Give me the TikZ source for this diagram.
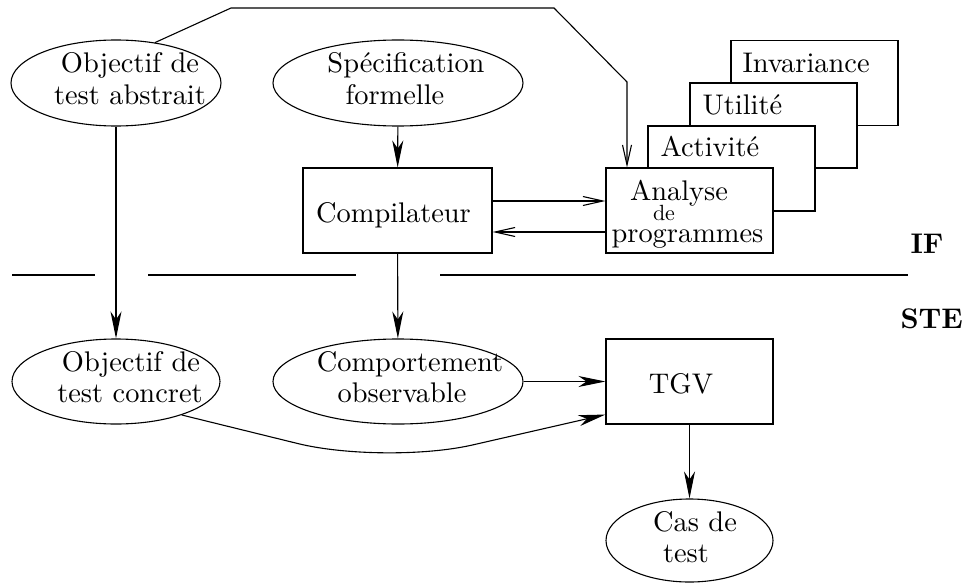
\documentclass[tikz,border=0pt]{standalone}
\usepackage{tikz}
\usetikzlibrary{shapes.geometric,arrows.meta}
\font\figrm="[lmroman10-regular]:+tlig;" at 28.4pt
\font\figsm="[lmroman10-regular]:+tlig;" at 22pt
\font\figbf="[lmroman10-bold]:+tlig;" at 28.4pt

\begin{document}
\begin{tikzpicture}[x=1pt,y=-1pt,line width=1.1pt,
    every node/.style={font=\figrm},
    oval/.style={draw,ellipse,inner sep=0pt,minimum height=86pt},
    boite/.style={draw,fill=white,inner sep=0pt,minimum width=167pt,minimum height=85pt},
    txt/.style={anchor=base,inner sep=0pt},
    fleche/.style={-{Stealth[length=27pt,width=11pt,inset=8pt]}},
    ouvert/.style={-{Straight Barb[length=20pt,width=9pt]}}]
        \useasboundingbox (0,0) rectangle (963,583);

        \node[oval,minimum width=210pt] (abs) at (116,83) {};
        \node[oval,minimum width=250pt] (spec) at (398,83) {};
        \node[oval,minimum width=208pt,minimum height=85pt] (conc) at (116,381.5) {};
        \node[oval,minimum width=250pt,minimum height=85pt] (comp) at (398,381.5) {};
        \node[oval,minimum width=167pt,minimum height=83pt] (cas) at (689.5,540.5) {};

        \node[boite,minimum width=189pt] (compil) at (397.5,210.5) {};
        \node[boite] (inv) at (814.5,83) {};
        \node[boite] (uti) at (773.5,125.5) {};
        \node[boite] (act) at (731.5,168.5) {};
        \node[boite] (ana) at (689.5,210.5) {};
        \node[boite] (tgv) at (689.5,381.5) {};

        \node[txt] (abs1) at (130,73) {Objectif de};
        \node[txt] (abs2) at (130,105) {test abstrait};
        \node[txt] (spec1) at (406,73) {Spécification};
        \node[txt] (spec2) at (395,105) {formelle};
        \node[txt] (conc1) at (131,371) {Objectif de};
        \node[txt] (conc2) at (130,402) {test concret};
        \node[txt] (comp1) at (410,371) {Comportement};
        \node[txt] (comp2) at (402,402) {observable};
        \node[txt] (cas1) at (695,531) {Cas de};
        \node[txt] (cas2) at (686,562) {test};
        \node[txt] (compil1) at (393.5,222) {Compilateur};
        \node[txt] (ana1) at (679,200) {Analyse};
        \node[txt,font=\figsm] (ana2) at (664,220) {de};
        \node[txt] (ana3) at (687.5,242) {programmes};
        \node[txt] (tgv1) at (681,393) {TGV};
        \node[txt,anchor=base west] (act1) at (660,157) {Activité};
        \node[txt,anchor=base west] (uti1) at (702,115) {Utilité};
        \node[txt,anchor=base west] (inv1) at (742,73) {Invariance};
        \node[txt,anchor=base west,font=\figbf] (labif) at (910,253) {IF};
        \node[txt,anchor=base west,font=\figbf] (labste) at (900,328) {STE};

        \coordinate (c1) at (231,8);
        \coordinate (c2) at (554,8);
        \coordinate (c3) at (627,82);
        \coordinate (bas) at (385,465);

        \draw[ouvert] (abs.46) -- (c1) -- (c2) -- (c3) -- (c3 |- ana.north);
        \draw[ouvert] ([yshift=9.5pt]compil.east) -- ([yshift=9.5pt]ana.west);
        \draw[ouvert] ([yshift=-21.5pt]ana.west) -- ([yshift=-21.5pt]compil.east);
        \draw[fleche] (spec) -- (compil);
        \draw[fleche] (abs) -- (conc);
        \draw[fleche] (compil) -- (comp);
        \draw[fleche] (comp) -- (tgv);
        \draw[fleche] (tgv) -- (cas);
        \draw[fleche,rounded corners=90pt] (conc.-27) -- (bas) -- ([yshift=10pt]tgv.south west);

        \draw (12,275) -- (95,275);
        \draw (148,275) -- (356,275);
        \draw (440,275) -- (908,275);
\end{tikzpicture}
\end{document}
